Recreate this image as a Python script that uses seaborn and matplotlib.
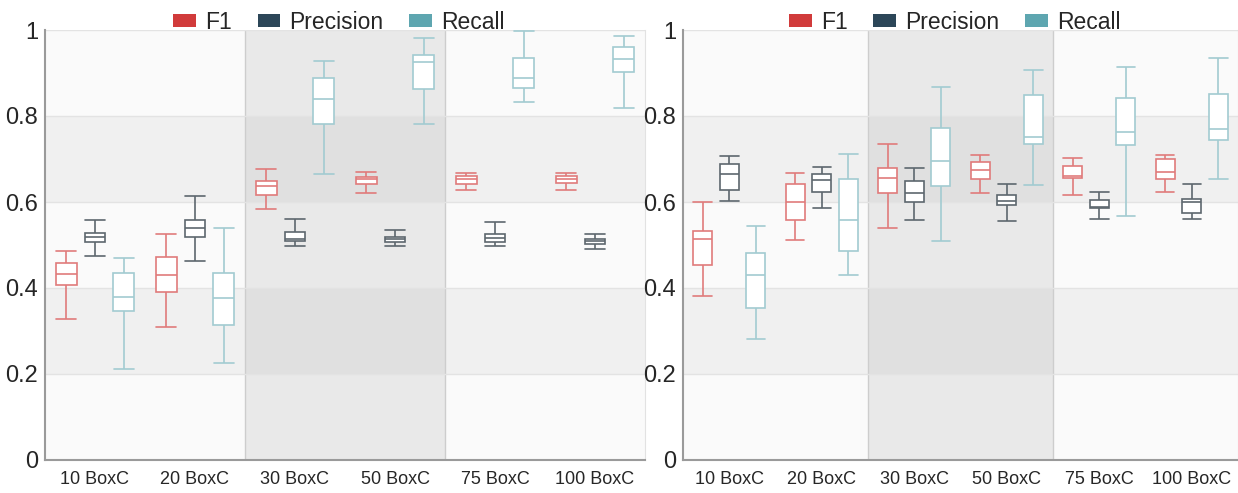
"""
BoxC 개수별 F1 / Precision / Recall 박스플롯 (좌우 두 패널)
"""
import numpy as np
import pandas as pd
import matplotlib
matplotlib.use('Agg')
import matplotlib.pyplot as plt
from matplotlib.patches import Patch
import seaborn as sns

sns.set_style('white')
plt.rcParams['font.family'] = ['Liberation Sans', 'DejaVu Sans']

# ─── 데이터 (min, Q1, median, Q3, max) ────────────────────────────────────────
categories = ['10 BoxC', '20 BoxC', '30 BoxC', '50 BoxC', '75 BoxC', '100 BoxC']
metrics = ['F1', 'Precision', 'Recall']

left_f1 = [[0.328, 0.406, 0.433, 0.459, 0.486],
           [0.309, 0.390, 0.431, 0.471, 0.526],
           [0.584, 0.616, 0.637, 0.650, 0.676],
           [0.622, 0.642, 0.653, 0.658, 0.670],
           [0.628, 0.643, 0.653, 0.661, 0.668],
           [0.627, 0.645, 0.654, 0.660, 0.668]]
left_precision = [[0.475, 0.506, 0.518, 0.527, 0.558],
                  [0.463, 0.519, 0.540, 0.558, 0.613],
                  [0.498, 0.510, 0.515, 0.530, 0.560],
                  [0.498, 0.506, 0.513, 0.518, 0.535],
                  [0.498, 0.508, 0.516, 0.525, 0.553],
                  [0.491, 0.503, 0.510, 0.513, 0.526]]
left_recall = [[0.212, 0.346, 0.379, 0.434, 0.469],
               [0.226, 0.315, 0.376, 0.436, 0.540],
               [0.666, 0.782, 0.840, 0.889, 0.928],
               [0.781, 0.862, 0.926, 0.942, 0.981],
               [0.833, 0.866, 0.889, 0.934, 0.998],
               [0.819, 0.902, 0.932, 0.960, 0.986]]

right_f1 = [[0.381, 0.453, 0.513, 0.533, 0.599],
            [0.512, 0.557, 0.600, 0.643, 0.667],
            [0.540, 0.620, 0.655, 0.680, 0.736],
            [0.621, 0.654, 0.675, 0.692, 0.709],
            [0.616, 0.656, 0.661, 0.684, 0.703],
            [0.624, 0.653, 0.670, 0.699, 0.709]]
right_precision = [[0.603, 0.627, 0.664, 0.688, 0.706],
                   [0.585, 0.623, 0.652, 0.664, 0.682],
                   [0.557, 0.599, 0.620, 0.649, 0.680],
                   [0.555, 0.592, 0.603, 0.617, 0.642],
                   [0.560, 0.586, 0.589, 0.605, 0.623],
                   [0.561, 0.574, 0.599, 0.608, 0.641]]
right_recall = [[0.281, 0.354, 0.431, 0.481, 0.544],
                [0.431, 0.485, 0.558, 0.653, 0.712],
                [0.509, 0.638, 0.696, 0.772, 0.867],
                [0.640, 0.735, 0.752, 0.850, 0.908],
                [0.567, 0.733, 0.763, 0.843, 0.914],
                [0.653, 0.744, 0.770, 0.852, 0.936]]

line_colors = {'F1': '#e07b7b', 'Precision': '#5d676e', 'Recall': '#a2cbd1'}
legend_colors = {'F1': '#d13b3b', 'Precision': '#2c4658', 'Recall': '#5ea6b0'}


def make_frame(f1, precision, recall):
    rows = []
    for metric, summaries in zip(metrics, [f1, precision, recall]):
        for cat, five in zip(categories, summaries):
            for v in five:
                rows.append({'category': cat, 'metric': metric, 'value': v})
    return pd.DataFrame(rows)


def draw_panel(ax, df, boundary_ticks=False):
    ax.set_facecolor('#fafafa')
    # 배경 띠
    for lo, hi in [(0.2, 0.4), (0.6, 0.8)]:
        ax.axhspan(lo, hi, color='black', alpha=0.04, lw=0, zorder=0)
    ax.axvspan(1.5, 3.5, color='black', alpha=0.065, lw=0, zorder=0)
    for x in [1.5, 3.5]:
        ax.axvline(x, color='#cdcdcd', lw=1, zorder=0.5)
    for y in [0.2, 0.4, 0.6, 0.8, 1.0]:
        ax.axhline(y, color='#e3e3e3', lw=1, zorder=0.5)

    for m in metrics:
        sns.boxplot(data=df[df['metric'] == m], x='category', y='value',
                    hue='metric', order=categories, hue_order=metrics,
                    dodge=True, width=0.86, gap=0.28, whis=(0, 100), fill=True,
                    linecolor=line_colors[m], linewidth=1.2, capwidths=0.2,
                    boxprops=dict(facecolor='white'), legend=False, ax=ax)

    ax.set_xlim(-0.5, 5.5)
    ax.set_ylim(0, 1)
    ax.set_yticks([0, 0.2, 0.4, 0.6, 0.8, 1.0])
    ax.set_yticklabels(['0', '0.2', '0.4', '0.6', '0.8', '1'])
    ax.set_xlabel('')
    ax.set_ylabel('')
    ax.tick_params(axis='y', labelsize=17, length=3, color='#999999', pad=2)
    ax.tick_params(axis='x', labelsize=13, length=0, pad=8)
    if boundary_ticks:
        ax.set_xticks([1.5, 3.5], minor=True)
        ax.tick_params(axis='x', which='minor', length=4, color='#999999')
    for s in ['left', 'bottom']:
        ax.spines[s].set_color('#9a9a9a')
        ax.spines[s].set_linewidth(1.5)
    ax.spines['top'].set_visible(False)
    ax.spines['right'].set_color('#e2e2e2')

    handles = [Patch(facecolor=legend_colors[m], edgecolor='none', label=m) for m in metrics]
    ax.legend(handles=handles, loc='lower center', bbox_to_anchor=(0.49, 0.97),
              ncol=3, frameon=False, fontsize=16.5, handlelength=1.0, handleheight=0.45,
              columnspacing=1.1, handletextpad=0.4, borderaxespad=0)


fig = plt.figure(figsize=(12.38, 4.93), dpi=100)
ax_l = fig.add_axes([45 / 1238, 33 / 493, 600 / 1238, 430 / 493])
ax_r = fig.add_axes([683 / 1238, 33 / 493, 555 / 1238, 430 / 493])

draw_panel(ax_l, make_frame(left_f1, left_precision, left_recall))
draw_panel(ax_r, make_frame(right_f1, right_precision, right_recall), boundary_ticks=True)

fig.savefig('out.png', dpi=100, facecolor='white')
plt.close(fig)
